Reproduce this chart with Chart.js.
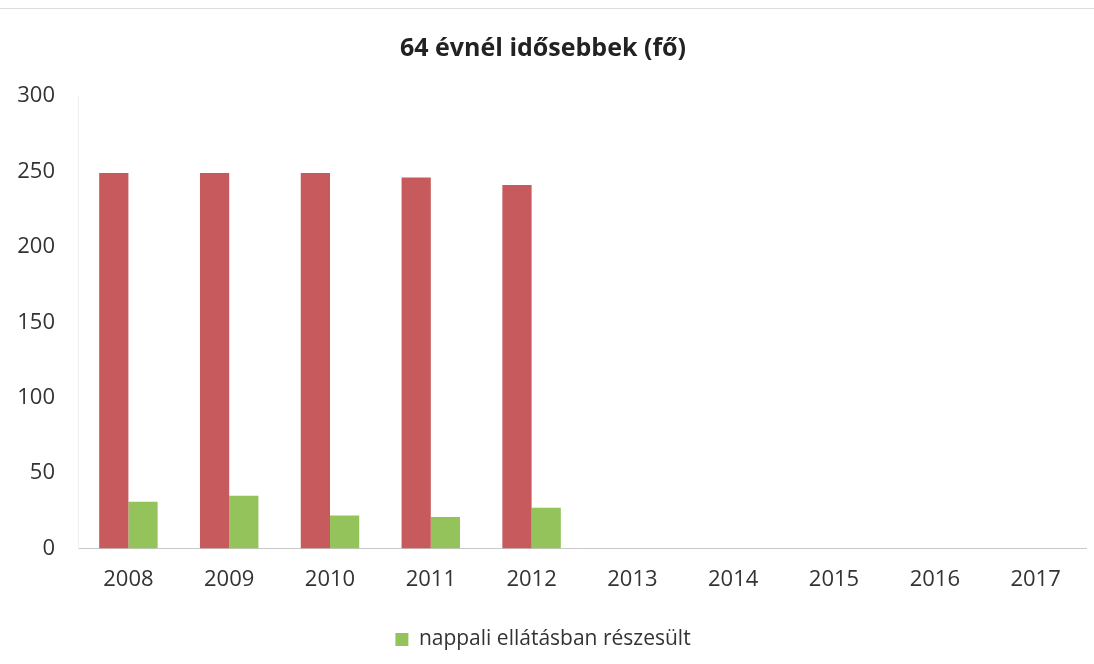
<!DOCTYPE html>
<html>
<head>
<meta charset="utf-8">
<script src="https://cdn.jsdelivr.net/npm/chart.js@4/dist/chart.umd.min.js"></script>
<style>
  html, body { margin: 0; padding: 0; background: #fff; }
  #wrap { width: 1094px; height: 664px; position: relative; }
  #frame { position: absolute; left: 0; top: 8px; width: 1094px; height: 0; border-top: 1px solid #ddd; }
</style>
</head>
<body>
<div id="wrap">
  <div id="frame"></div>
  <canvas id="myChart" width="1094" height="664"></canvas>
</div>
<script>
let years = ['2008', '2009', '2010', '2011', '2012', '2013', '2014', '2015', '2016', '2017'];
let osszesen = [249, 249, 249, 246, 241, null, null, null, null, null];
let nappali = [31, 35, 22, 21, 27, null, null, null, null, null];
let yTicks = [0, 50, 100, 150, 200, 250, 300];

let ctx = document.getElementById('myChart').getContext('2d');
let myChart = new Chart(ctx, {
  type: 'bar',
  data: {
    labels: years,
    datasets: [{
      label: '',
      data: osszesen,
      backgroundColor: '#C65A5C',
      borderWidth: 0
    }, {
      label: 'nappali ellátásban részesült',
      data: nappali,
      backgroundColor: '#94C35C',
      borderWidth: 0
    }]
  },
  options: {
    responsive: false,
    animation: false,
    layout: { padding: { left: 0, right: 8, top: 34, bottom: 4 } },
    datasets: { bar: { barPercentage: 1, categoryPercentage: 0.58 } },
    plugins: {
      title: {
        display: true,
        text: '64 évnél idősebbek (fő)',
        color: '#222',
        font: { family: 'Open Sans', size: 25, weight: 'bold' },
        padding: { top: 0, bottom: 32 }
      },
      legend: {
        position: 'bottom',
        labels: {
          filter: function(item) { return item.datasetIndex === 1; },
          color: '#333',
          font: { family: 'Open Sans', size: 21 },
          boxWidth: 13,
          boxHeight: 13,
          padding: 18
        }
      },
      tooltip: { enabled: false }
    },
    scales: {
      x: {
        grid: { display: false, drawTicks: false },
        border: { display: true, color: '#c8c8c8', width: 1 },
        ticks: { color: '#333', font: { family: 'Open Sans', size: 22 }, padding: 18 }
      },
      y: {
        min: 0,
        max: 300,
        afterBuildTicks: function(axis) { axis.ticks = yTicks.map(function(v) { return { value: v }; }); },
        afterFit: function(axis) { axis.width = 78; },
        grid: { display: false, drawTicks: false },
        border: { display: true, color: '#eeeeee', width: 1 },
        ticks: { color: '#333', font: { family: 'Open Sans', size: 22 }, padding: 23 }
      }
    }
  }
});
</script>
</body>
</html>
